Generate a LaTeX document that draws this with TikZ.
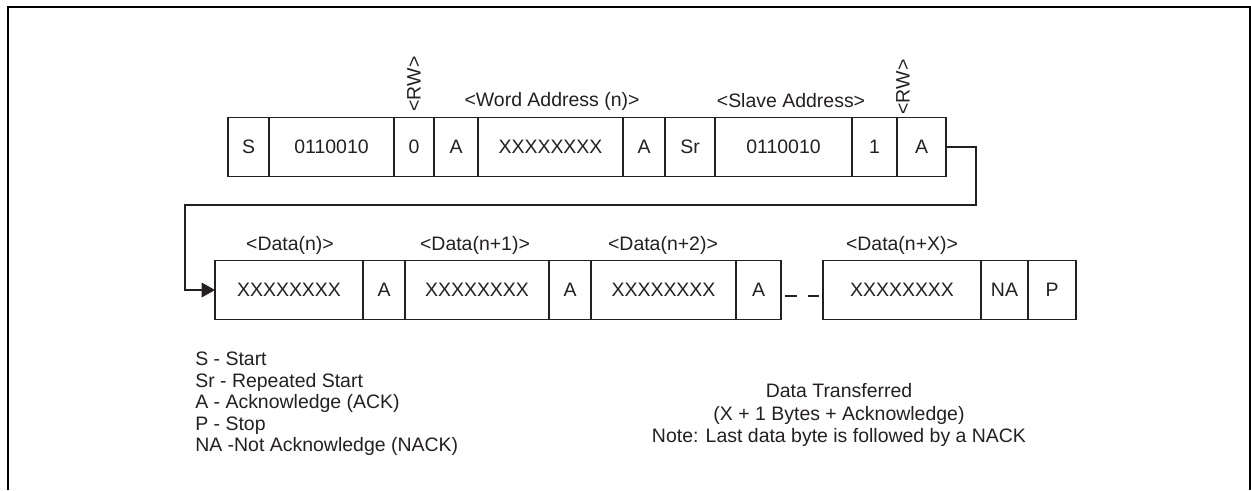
\documentclass[tikz,border=0pt]{standalone}
\usepackage{fontspec}
\setmainfont{Liberation Sans}
\usetikzlibrary{arrows.meta,positioning}
\definecolor{LineClr}{rgb}{0.14,0.12,0.13}

\begin{document}
\begin{tikzpicture}[x=0.75pt,y=-0.75pt,
  field/.style={draw=LineClr,line width=1pt,minimum width=#1*0.75pt,minimum height=44.25pt,
    inner sep=0pt,outer sep=0pt,text=LineClr,font=\fontsize{14.6}{16.1}\selectfont},
  lbl/.style={text=LineClr,inner sep=0pt,font=\fontsize{14.6}{16.1}\selectfont},
  conn/.style={draw=LineClr,line width=1pt}]
\useasboundingbox (0,0) rectangle (1251,490);

\draw[line width=1.5pt] (8,490) -- (8,7) -- (1250,7) -- (1250,490);

\node[field=41,anchor=west] (s) at (228,147) {S};
\node[field=125,right=0pt of s] (sla) {0110010};
\node[field=40,right=0pt of sla] (rw0) {0};
\node[field=44,right=0pt of rw0] (a1) {A};
\node[field=145,right=0pt of a1] (wa) {XXXXXXXX};
\node[field=42,right=0pt of wa] (a2) {A};
\node[field=50,right=0pt of a2] (sr) {Sr};
\node[field=137,right=0pt of sr] (slb) {0110010};
\node[field=45,right=0pt of slb] (rw1) {1};
\node[field=49,right=0pt of rw1] (a3) {A};

\node[field=148,anchor=west] (d0) at (215,290) {XXXXXXXX};
\node[field=42,right=0pt of d0] (a4) {A};
\node[field=144,right=0pt of a4] (d1) {XXXXXXXX};
\node[field=42,right=0pt of d1] (a5) {A};
\node[field=145,right=0pt of a5] (d2) {XXXXXXXX};
\node[field=45,right=0pt of d2] (a6) {A};
\node[field=158,anchor=west] (dx) at (823,290) {XXXXXXXX};
\node[field=47,right=0pt of dx] (na) {NA};
\node[field=48,right=0pt of na] (p) {P};

\node[lbl,rotate=90] (rw0lbl) at (414,84) {<RW>};
\node[lbl] (walbl) at (552,101) {<Word Address (n)>};
\node[lbl] (salbl) at (791,101) {<Slave Address>};
\node[lbl,rotate=90] (rw1lbl) at (903,87) {<RW>};
\node[lbl] (d0lbl) at (290,245) {<Data(n)>};
\node[lbl] (d1lbl) at (475,245) {<Data(n+1)>};
\node[lbl] (d2lbl) at (663,245) {<Data(n+2)>};
\node[lbl] (dxlbl) at (902,245) {<Data(n+X)>};

\coordinate (turn) at (976,205);
\coordinate (back) at (185,205);
\draw[conn,-{Triangle[length=10pt,width=11pt]}] (a3.east) -| (turn) -- (back) |- (d0.west);
\draw[conn,dash pattern=on 9pt off 8.25pt] ([xshift=3pt,yshift=-4.5pt]a6.east) -- ([xshift=-3pt,yshift=-4.5pt]dx.west);

\node[lbl,anchor=north west,align=left] (legend) at (195,352)
  {S - Start\\Sr - Repeated Start\\A - Acknowledge (ACK)\\P - Stop\\NA -Not Acknowledge (NACK)};
\node[lbl,align=center,font=\fontsize{14.6}{16.9}\selectfont] (note) at (839,415)
  {Data Transferred\\(X + 1 Bytes + Acknowledge)\\Note: Last data byte is followed by a NACK};

\end{tikzpicture}
\end{document}
